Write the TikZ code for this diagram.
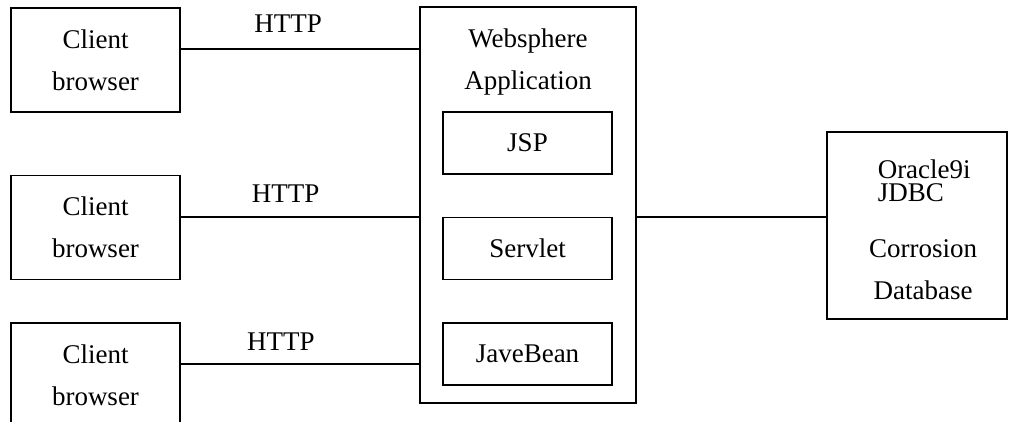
\documentclass[tikz,border=0pt]{standalone}
\usepackage{fontspec}
\setmainfont{Liberation Serif}
\usetikzlibrary{positioning}

\begin{document}
\begin{tikzpicture}[x=1pt,y=-1pt,line width=1.5pt,
		font=\fontsize{27}{42}\selectfont,
		every text node part/.style={align=center}]
		\tikzstyle{box}=[draw=black,inner sep=0pt,minimum width=169pt]
		\tikzstyle{txt}=[inner sep=0pt]
		\useasboundingbox (0,0) rectangle (1009,421);
		
		% clients
		\node[box,minimum height=104pt]    (C1)   at (95.5,60)  {Client \\ browser};
		\node[box,minimum height=104pt]    (C2)   [below=62pt of C1]  {Client \\ browser};
		\node[box,minimum height=104pt]    (C3)   [below=42pt of C2]  {Client \\ browser};
		
		% application server
		\node[box,minimum width=216pt,minimum height=396pt]    (WS)   at (528,205)  {};
		\node[txt]    (WA)   at (528,62)  {Websphere \\ Application};
		\node[box,minimum height=62pt]    (J)   at (527.5,143)  {JSP};
		\node[box,minimum height=62pt]    (S)   [below=42pt of J]  {Servlet};
		\node[box,minimum height=62pt]    (JB)   [below=42pt of S]  {JaveBean};
		
		% database
		\node[box,minimum width=180pt,minimum height=187pt]    (DB)   at (917,225.5)  {};
		\node[txt,anchor=west,every text node part/.style={align=left}]    (OJ)   at (877,181)  {Oracle9i \\[-19pt] JDBC};
		\node[txt]    (CD)   at (923,270)  {Corrosion \\ Database};
		
		\path (C1.east) ++(0,-11) coordinate (h1)
		(C2.east) ++(0,-10.5) coordinate (h2)
		(C3.east) ++(0,-11) coordinate (h3);
		
		\draw (h1) -- node[txt,above=16pt,pos=.45] {HTTP} (h1 -| WS.west);
		\draw (h2) -- node[txt,above=14pt,pos=.44] {HTTP} (h2 -| WS.west);
		\draw (h3) -- node[txt,above=13pt,pos=.42] {HTTP} (h3 -| WS.west);
		\draw (WS.east |- h2) -- (DB.west |- h2);
		
\end{tikzpicture}
\end{document}
